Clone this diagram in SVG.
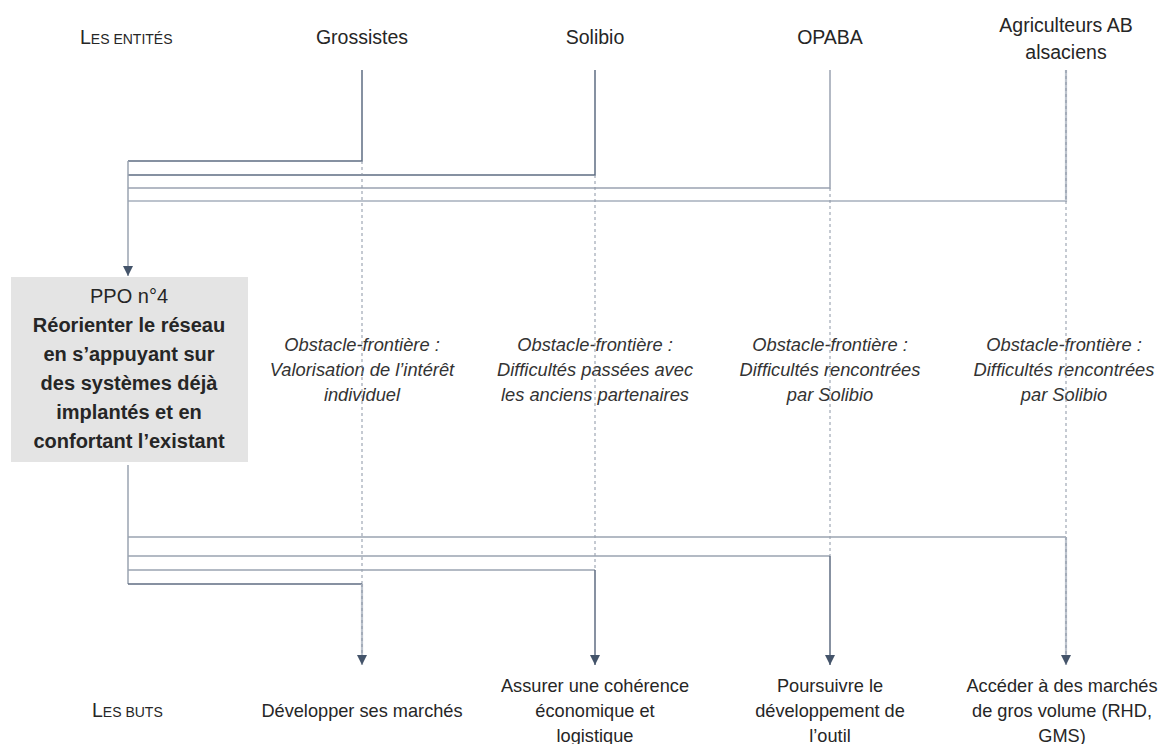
<svg xmlns="http://www.w3.org/2000/svg" width="1162" height="744" viewBox="0 0 1162 744">
<style>
text{font-family:"Liberation Sans",Arial,sans-serif;fill:#262626;}
.hd{font-size:19.5px;text-anchor:middle;}
.sc{font-size:14px;}
.ob{font-size:18.3px;font-style:italic;text-anchor:middle;fill:#333;}
.gl{font-size:18.2px;text-anchor:middle;}
.box{font-size:20px;text-anchor:middle;}
.b{font-weight:bold;}
.ln{fill:none;stroke:#9aa3b1;stroke-width:1.5;}
.dk{stroke:#5f6d82;}
.lt{stroke:#bcc3cd;stroke-width:2.2;}
.ds{fill:none;stroke:#8b95a5;stroke-width:1;stroke-dasharray:3 3;}
</style>
<defs>
<marker id="ah" viewBox="0 0 10 10" refX="10" refY="5" markerWidth="10" markerHeight="10" markerUnits="userSpaceOnUse" orient="auto">
<path d="M0,0 L10,5 L0,10 Z" fill="#44546a"/>
</marker>
</defs>

<g id="labels">
<text x="80" y="44" style="font-size:19.5px">L<tspan class="sc">ES ENTITÉS</tspan></text>
<text x="92" y="717" style="font-size:19.5px">L<tspan class="sc">ES BUTS</tspan></text>
</g>

<g id="ent-grossistes"><text class="hd" x="362" y="44">Grossistes</text></g>
<g id="ent-solibio"><text class="hd" x="595" y="44">Solibio</text></g>
<g id="ent-opaba"><text class="hd" x="830" y="44">OPABA</text></g>
<g id="ent-agriculteurs"><text class="hd" x="1066" y="32">Agriculteurs AB</text><text class="hd" x="1066" y="59">alsaciens</text></g>

<g id="ppo">
<rect x="11" y="277" width="237" height="185" fill="#e4e4e4"/>
<text class="box" x="129" y="303">PPO n°4</text>
<text class="box b" x="129" y="332">Réorienter le réseau</text>
<text class="box b" x="129" y="361">en s’appuyant sur</text>
<text class="box b" x="129" y="390">des systèmes déjà</text>
<text class="box b" x="129" y="419">implantés et en</text>
<text class="box b" x="129" y="448">confortant l’existant</text>
</g>

<g id="obstacle-1"><text class="ob" x="362" y="351">Obstacle-frontière :</text><text class="ob" x="362" y="376">Valorisation de l’intérêt</text><text class="ob" x="362" y="401">individuel</text></g>
<g id="obstacle-2"><text class="ob" x="595" y="351">Obstacle-frontière :</text><text class="ob" x="595" y="376">Difficultés passées avec</text><text class="ob" x="595" y="401">les anciens partenaires</text></g>
<g id="obstacle-3"><text class="ob" x="830" y="351">Obstacle-frontière :</text><text class="ob" x="830" y="376">Difficultés rencontrées</text><text class="ob" x="830" y="401">par Solibio</text></g>
<g id="obstacle-4"><text class="ob" x="1064" y="351">Obstacle-frontière :</text><text class="ob" x="1064" y="376">Difficultés rencontrées</text><text class="ob" x="1064" y="401">par Solibio</text></g>

<g id="but-1"><text class="gl" x="362" y="717">Développer ses marchés</text></g>
<g id="but-2"><text class="gl" x="595" y="692">Assurer une cohérence</text><text class="gl" x="595" y="717">économique et</text><text class="gl" x="595" y="742">logistique</text></g>
<g id="but-3"><text class="gl" x="830" y="692">Poursuivre le</text><text class="gl" x="830" y="717">développement de</text><text class="gl" x="830" y="742">l’outil</text></g>
<g id="but-4"><text class="gl" x="1062" y="692">Accéder à des marchés</text><text class="gl" x="1062" y="717">de gros volume (RHD,</text><text class="gl" x="1062" y="742">GMS)</text></g>

<g id="connectors">
<path class="ln dk" d="M362,70 V161 H128"/>
<path class="ln dk" d="M595,70 V175 H128"/>
<path class="ln" d="M830,70 V188 H128"/>
<path class="ln lt" d="M1066,70 V201 H128"/>
<path class="ds" d="M1066,70 V201"/>
<path class="ln" d="M128,161 V276" marker-end="url(#ah)"/>
<path class="ds" d="M362,161 V584"/>
<path class="ds" d="M595,175 V570"/>
<path class="ds" d="M830,188 V556"/>
<path class="ds" d="M1066,201 V537"/>
<path class="ln" d="M128,465 V584"/>
<path class="ln" d="M128,537 H1066"/>
<path class="ln" d="M128,556 H830"/>
<path class="ln" d="M128,570 H595"/>
<path class="ln dk" d="M128,584 H362"/>
<path class="ln lt" d="M362,584 V665" marker-end="url(#ah)"/>
<path class="ds" d="M362,584 V656"/>
<path class="ln dk" d="M595,570 V665" marker-end="url(#ah)"/>
<path class="ln dk" d="M830,556 V665" marker-end="url(#ah)"/>
<path class="ln lt" d="M1066,537 V665" marker-end="url(#ah)"/>
<path class="ds" d="M1066,537 V656"/>
</g>
</svg>
